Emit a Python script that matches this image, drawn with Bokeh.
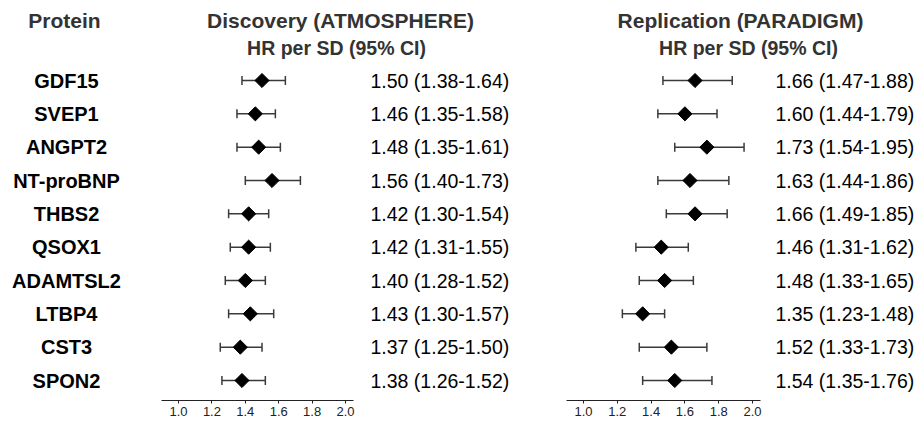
import numpy as np
from bokeh.plotting import figure
from bokeh.layouts import column, row
from bokeh.models import (ColumnDataSource, Range1d, Whisker, TeeHead, FixedTicker,
                          NumeralTickFormatter)
from bokeh.core.properties import value
from bokeh.embed import file_html
from bokeh.resources import INLINE

proteins = ["GDF15", "SVEP1", "ANGPT2", "NT-proBNP", "THBS2", "QSOX1",
            "ADAMTSL2", "LTBP4", "CST3", "SPON2"]
disc_hr = [1.50, 1.46, 1.48, 1.56, 1.42, 1.42, 1.40, 1.43, 1.37, 1.38]
disc_lo = [1.38, 1.35, 1.35, 1.40, 1.30, 1.31, 1.28, 1.30, 1.25, 1.26]
disc_hi = [1.64, 1.58, 1.61, 1.73, 1.54, 1.55, 1.52, 1.57, 1.50, 1.52]
rep_hr = [1.66, 1.60, 1.73, 1.63, 1.66, 1.46, 1.48, 1.35, 1.52, 1.54]
rep_lo = [1.47, 1.44, 1.54, 1.44, 1.49, 1.31, 1.33, 1.23, 1.33, 1.35]
rep_hi = [1.88, 1.79, 1.95, 1.86, 1.85, 1.62, 1.65, 1.48, 1.73, 1.76]
hr_ticks = [1.0, 1.2, 1.4, 1.6, 1.8, 2.0]

title_texts = ["Protein", "Discovery (ATMOSPHERE)", "Replication (PARADIGM)"]
sub_texts = ["HR per SD (95% CI)", "HR per SD (95% CI)"]

FONT = "Liberation Sans"
FRAME_H = 337
ypos = np.arange(len(proteins))


def base_fig(width, xr, with_axis=False):
    p = figure(frame_width=width, frame_height=FRAME_H, x_range=xr,
               y_range=Range1d(9.6, -0.51),
               output_backend="svg", toolbar_location=None,
               x_axis_location="below" if with_axis else None,
               y_axis_location=None, min_border=0)
    p.outline_line_color = None
    p.grid.visible = False
    p.background_fill_color = "white"
    p.border_fill_color = "white"
    return p


def forest(width, xr, hr, lo, hi, bounds):
    p = base_fig(width, xr, with_axis=True)
    src = ColumnDataSource(dict(y=ypos, hr=hr, lo=lo, hi=hi))
    w = Whisker(source=src, base="y", lower="lo", upper="hi", dimension="width",
                line_color="#3a3a3a", line_width=1.5,
                lower_head=TeeHead(size=9, line_color="#3a3a3a", line_width=1.5),
                upper_head=TeeHead(size=9, line_color="#3a3a3a", line_width=1.5))
    p.add_layout(w)
    p.scatter("hr", "y", source=src, marker="square", angle=np.pi / 4,
              size=10, color="black")
    ax = p.xaxis[0]
    ax.ticker = FixedTicker(ticks=hr_ticks)
    ax.formatter = NumeralTickFormatter(format="0.0")
    ax.bounds = bounds
    ax.axis_line_color = "#222222"
    ax.axis_line_width = 1
    ax.major_tick_in = 0
    ax.major_tick_out = 3
    ax.minor_tick_in = 0
    ax.minor_tick_out = 0
    ax.major_tick_line_color = "#222222"
    ax.major_label_text_font = FONT
    ax.major_label_text_font_size = "13px"
    ax.major_label_text_color = "#222222"
    ax.major_label_standoff = 3
    return p


def text_col(width, hr, lo, hi, xoff):
    p = base_fig(width, Range1d(0, width))
    labels = [f"{a:.2f} ({b:.2f}-{c:.2f})" for a, b, c in zip(hr, lo, hi)]
    src = ColumnDataSource(dict(x=[xoff] * len(labels), y=ypos, t=labels))
    p.text("x", "y", text="t", source=src, text_font=value(FONT),
           text_font_size="19.5px", text_color="black",
           text_align="left", text_baseline="middle")
    return p


# protein names
p1 = base_fig(160, Range1d(0, 160))
src1 = ColumnDataSource(dict(x=[66] * len(proteins), y=ypos, t=proteins))
p1.text("x", "y", text="t", source=src1, text_font=value(FONT),
        text_font_size="20px", text_font_style="bold", text_color="black",
        text_align="center", text_baseline="middle")

p2 = forest(197, Range1d(0.892, 2.072), disc_hr, disc_lo, disc_hi, (0.9, 2.05))
p3 = text_col(203, disc_hr, disc_lo, disc_hi, 13)
p4 = forest(203, Range1d(0.864, 2.065), rep_hr, rep_lo, rep_hi, (0.9, 2.05))
p5 = text_col(156, rep_hr, rep_lo, rep_hi, 12)

# header strip
hdr = figure(frame_width=919, frame_height=63, x_range=Range1d(0, 919),
             y_range=Range1d(63, 0), output_backend="svg", toolbar_location=None,
             x_axis_location=None, y_axis_location=None, min_border=0)
hdr.outline_line_color = None
hdr.grid.visible = False
tsrc = ColumnDataSource(dict(x=[64, 340, 740], y=[20, 20, 20], t=title_texts))
hdr.text("x", "y", text="t", source=tsrc, text_font=value(FONT),
         text_font_size="21px", text_font_style="bold", text_color="#333333",
         text_align="center", text_baseline="middle")
ssrc = ColumnDataSource(dict(x=[336, 748], y=[47, 47], t=sub_texts))
hdr.text("x", "y", text="t", source=ssrc, text_font=value(FONT),
         text_font_size="19.5px", text_font_style="bold", text_color="#333333",
         text_align="center", text_baseline="middle")

layout = column(hdr, row(p1, p2, p3, p4, p5, spacing=0), spacing=0)

with open("out.html", "w") as f:
    f.write(file_html(layout, INLINE))
